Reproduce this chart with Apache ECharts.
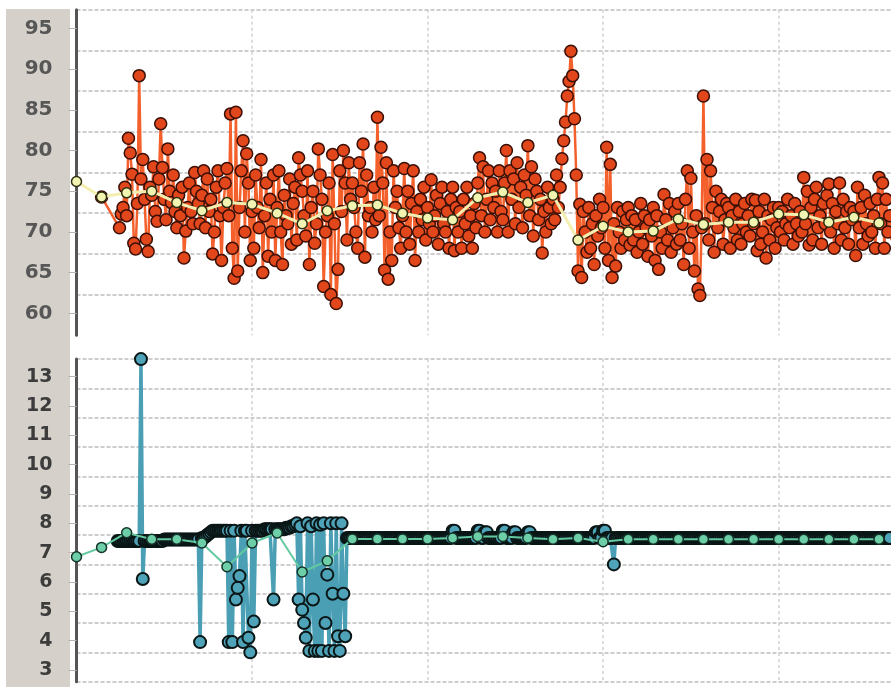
<!DOCTYPE html>
<html>
<head>
<meta charset="utf-8">
<script src="https://cdn.jsdelivr.net/npm/echarts@6/dist/echarts.min.js"></script>
<style>
  html, body { margin: 0; padding: 0; background: #fff; }
  #chart { width: 891px; height: 687px; }
</style>
</head>
<body>
<div id="chart"></div>
<script>
// tick labels
const topLabels = [60, 65, 70, 75, 80, 85, 90, 95];
const bottomLabels = [3, 4, 5, 6, 7, 8, 9, 10, 11, 12, 13];

// smoothed series, one point per period (x = 0..32)
const topAvg = [76.2, 74.3, 74.8, 75.0, 73.6, 72.6, 73.6, 73.4, 72.3, 71.0, 72.6,
  73.2, 73.3, 72.3, 71.7, 71.5, 74.2, 74.9, 73.6, 74.5, 69.0, 70.7,
  70.0, 70.1, 71.6, 70.9, 71.2, 71.2, 72.2, 72.1, 71.2, 71.8, 71.1];
const bottomAvg = [6.86, 7.18, 7.68, 7.46, 7.46, 7.33, 6.52, 7.33, 7.67, 6.34, 6.72,
  7.47, 7.47, 7.47, 7.47, 7.5, 7.55, 7.55, 7.5, 7.46, 7.5, 7.37,
  7.46, 7.46, 7.46, 7.46, 7.46, 7.46, 7.46, 7.46, 7.46, 7.46, 7.46];

// raw readings, 14 per period, starting at period 1
const topRaw = [
  74.3, null, null, null, null, null, null, null, null, null, 70.5, 72.2, 73.0, 75.5,
  72.0, 81.5, 79.7, 77.1, 68.6, 67.9, 73.5, 89.2, 76.5, 78.9, 74.0, 69.1, 67.6, 75.5,
  74.5, 78.0, 72.5, 71.3, 76.5, 83.3, 77.9, 74.0, 71.5, 80.2, 75.0, 73.6, 77.0, 72.5,
  70.5, 74.5, 72.0, 75.5, 66.8, 70.1, 73.0, 76.0, 72.5, 71.0, 77.3, 75.0, 73.5, 71.0,
  74.5, 77.5, 70.5, 76.5, 72.5, 74.0, 67.3, 70.0, 75.5, 77.5, 72.0, 66.5, 73.0, 76.0,
  77.8, 72.0, 84.5, 68.0, 64.3, 84.7, 65.2, 73.0, 77.5, 81.2, 70.0, 79.6, 76.0, 66.5,
  72.5, 68.0, 77.0, 73.0, 70.5, 78.9, 65.0, 72.0, 76.0, 67.0, 74.0, 70.0, 77.0, 66.5,
  73.0, 77.5, 70.0, 66.0, 74.5, 72.0, 71.0, 76.5, 68.5, 73.5, 75.5, 69.0, 79.1, 77.0,
  75.0, 72.0, 69.5, 77.5, 66.0, 73.0, 75.0, 68.6, 71.0, 80.2, 77.0, 74.0, 63.3, 70.0,
  72.0, 76.0, 62.3, 79.5, 71.0, 61.2, 65.4, 77.5, 72.5, 80.0, 76.0, 69.0, 78.5, 74.0,
  76.0, 73.0, 70.0, 68.0, 78.5, 75.0, 80.8, 66.9, 77.0, 72.0, 73.0, 70.0, 75.5, 71.5,
  84.1, 72.0, 80.4, 76.0, 65.3, 78.5, 64.2, 70.0, 66.5, 77.5, 73.0, 75.0, 70.5, 68.0,
  72.0, 77.8, 70.0, 75.0, 68.5, 73.5, 77.5, 66.5, 72.5, 70.0, 74.0, 71.5, 75.5, 69.0,
  73.0, 71.0, 76.4, 70.0, 72.0, 74.5, 68.5, 73.5, 75.5, 71.0, 70.0, 72.5, 68.0, 74.0,
  75.5, 67.7, 73.0, 70.0, 72.5, 68.0, 74.0, 71.0, 75.5, 69.5, 72.0, 68.0, 73.5, 70.5,
  76.0, 79.1, 72.0, 78.0, 70.0, 74.0, 77.5, 71.5, 76.0, 73.0, 75.0, 70.0, 77.5, 72.5,
  71.5, 76.0, 80.0, 70.0, 77.5, 74.0, 76.5, 71.0, 78.5, 73.0, 75.5, 70.5, 77.0, 74.5,
  80.6, 72.0, 78.0, 69.5, 76.5, 75.0, 71.5, 74.0, 67.4, 72.5, 70.0, 75.5, 73.0, 71.0,
  74.0, 71.5, 77.0, 73.0, 75.5, 79.0, 81.2, 83.5, 86.7, 88.5, 92.2, 89.2, 83.9, 77.0,
  65.2, 73.4, 64.4, 72.5, 70.0, 67.5, 73.0, 68.0, 71.0, 66.0, 72.0, 69.5, 74.0, 70.5,
  73.0, 68.0, 80.4, 66.5, 78.3, 64.4, 71.0, 65.8, 73.0, 70.0, 68.0, 72.5, 69.0, 71.5,
  73.0, 68.4, 72.0, 69.0, 71.5, 67.5, 70.0, 73.5, 68.5, 72.0, 70.5, 67.0, 71.5, 69.5,
  73.0, 66.5, 72.0, 65.4, 70.0, 68.0, 74.6, 71.5, 69.0, 73.5, 67.5, 70.5, 72.5, 68.5,
  73.5, 69.0, 71.0, 66.0, 74.0, 77.5, 68.0, 76.6, 70.0, 65.2, 72.0, 63.0, 62.2, 70.5,
  86.7, 71.0, 78.9, 69.0, 77.5, 73.0, 67.5, 75.0, 70.5, 72.5, 74.0, 68.5, 71.5, 73.5,
  73.0, 68.0, 72.0, 70.5, 74.0, 69.0, 72.5, 68.5, 71.0, 73.5, 70.0, 72.0, 69.5, 74.0,
  71.0, 73.9, 67.7, 72.5, 68.5, 70.0, 74.0, 66.8, 72.0, 69.0, 71.5, 73.0, 68.0, 70.5,
  73.0, 70.0, 72.5, 69.0, 71.0, 74.0, 70.5, 72.0, 68.5, 73.5, 71.0, 69.5, 72.5, 70.0,
  76.7, 71.0, 75.0, 68.4, 73.0, 69.0, 74.0, 75.5, 70.5, 72.0, 68.5, 73.5, 71.0, 74.5,
  75.9, 70.0, 73.5, 68.0, 72.5, 71.0, 76.0, 69.0, 74.0, 70.5, 72.5, 68.5, 73.0, 71.5,
  72.5, 67.1, 75.5, 70.5, 73.0, 68.5, 74.5, 71.0, 69.5, 73.5, 70.0, 72.0, 68.0, 74.0,
  76.7, 71.0, 76.0, 68.0, 74.0, 70.0, 72.0, 69.0, 73.0, 70.5, 72.0, 71.0, 70.0, 72.0
];
const bottomRaw = [
  null, null, null, null, null, null, null, null, null, 7.4, 7.4, 7.4, 7.4, 7.4,
  7.4, 7.4, 7.4, 7.4, 7.4, 7.4, 7.4, 7.4, 13.6, 6.1, 7.4, 7.4, 7.4, 7.4,
  7.4, 7.4, 7.4, 7.4, 7.4, 7.4, 7.4, 7.45, 7.45, 7.45, 7.45, 7.45, 7.45, 7.45,
  7.45, 7.45, 7.45, 7.45, 7.45, 7.45, 7.45, 7.45, 7.45, 7.45, 7.45, 7.45, 7.45, 3.95,
  7.5, 7.5, 7.55, 7.6, 7.65, 7.7, 7.75, 7.75, 7.75, 7.75, 7.75, 7.75, 7.75, 7.75,
  7.75, 3.95, 7.75, 3.95, 7.75, 5.4, 5.8, 6.2, 7.75, 3.95, 7.75, 7.75, 4.1, 3.6,
  7.75, 4.65, 7.75, 7.75, 7.75, 7.75, 7.75, 7.8, 7.8, 7.8, 7.8, 7.8, 5.4, 7.8,
  7.8, 7.8, 7.8, 7.8, 7.8, 7.85, 7.85, 7.85, 7.9, 7.9, 7.95, 8.0, 5.4, 7.9,
  5.05, 4.6, 4.1, 8.0, 3.65, 7.9, 5.4, 3.65, 8.0, 3.65, 7.95, 3.65, 8.0, 4.6,
  6.25, 3.65, 8.0, 5.6, 3.65, 8.0, 4.15, 3.65, 8.0, 5.6, 4.15, 7.5, 7.5, 7.5,
  7.5, 7.5, 7.5, 7.5, 7.5, 7.5, 7.5, 7.5, 7.5, 7.5, 7.5, 7.5, 7.5, 7.5,
  7.5, 7.5, 7.5, 7.5, 7.5, 7.5, 7.5, 7.5, 7.5, 7.5, 7.5, 7.5, 7.5, 7.5,
  7.5, 7.5, 7.5, 7.5, 7.5, 7.5, 7.5, 7.5, 7.5, 7.5, 7.5, 7.5, 7.5, 7.5,
  7.5, 7.5, 7.5, 7.5, 7.5, 7.5, 7.5, 7.5, 7.5, 7.5, 7.5, 7.5, 7.5, 7.5,
  7.75, 7.75, 7.5, 7.5, 7.5, 7.5, 7.5, 7.5, 7.5, 7.5, 7.5, 7.5, 7.5, 7.5,
  7.75, 7.75, 7.5, 7.5, 7.7, 7.7, 7.5, 7.5, 7.5, 7.5, 7.5, 7.5, 7.5, 7.5,
  7.75, 7.75, 7.5, 7.5, 7.5, 7.5, 7.7, 7.7, 7.5, 7.5, 7.5, 7.5, 7.5, 7.5,
  7.7, 7.7, 7.5, 7.5, 7.5, 7.5, 7.5, 7.5, 7.5, 7.5, 7.5, 7.5, 7.5, 7.5,
  7.5, 7.5, 7.5, 7.5, 7.5, 7.5, 7.5, 7.5, 7.5, 7.5, 7.5, 7.5, 7.5, 7.5,
  7.5, 7.5, 7.5, 7.5, 7.5, 7.5, 7.5, 7.5, 7.5, 7.5, 7.7, 7.7, 7.5, 7.5,
  7.75, 7.75, 7.5, 7.5, 7.5, 7.5, 6.6, 7.5, 7.5, 7.5, 7.5, 7.5, 7.5, 7.5,
  7.5, 7.5, 7.5, 7.5, 7.5, 7.5, 7.5, 7.5, 7.5, 7.5, 7.5, 7.5, 7.5, 7.5,
  7.5, 7.5, 7.5, 7.5, 7.5, 7.5, 7.5, 7.5, 7.5, 7.5, 7.5, 7.5, 7.5, 7.5,
  7.5, 7.5, 7.5, 7.5, 7.5, 7.5, 7.5, 7.5, 7.5, 7.5, 7.5, 7.5, 7.5, 7.5,
  7.5, 7.5, 7.5, 7.5, 7.5, 7.5, 7.5, 7.5, 7.5, 7.5, 7.5, 7.5, 7.5, 7.5,
  7.5, 7.5, 7.5, 7.5, 7.5, 7.5, 7.5, 7.5, 7.5, 7.5, 7.5, 7.5, 7.5, 7.5,
  7.5, 7.5, 7.5, 7.5, 7.5, 7.5, 7.5, 7.5, 7.5, 7.5, 7.5, 7.5, 7.5, 7.5,
  7.5, 7.5, 7.5, 7.5, 7.5, 7.5, 7.5, 7.5, 7.5, 7.5, 7.5, 7.5, 7.5, 7.5,
  7.5, 7.5, 7.5, 7.5, 7.5, 7.5, 7.5, 7.5, 7.5, 7.5, 7.5, 7.5, 7.5, 7.5,
  7.5, 7.5, 7.5, 7.5, 7.5, 7.5, 7.5, 7.5, 7.5, 7.5, 7.5, 7.5, 7.5, 7.5,
  7.5, 7.5, 7.5, 7.5, 7.5, 7.5, 7.5, 7.5, 7.5, 7.5, 7.5, 7.5, 7.5, 7.5,
  7.5, 7.5, 7.5, 7.5, 7.5, 7.5, 7.5, 7.5, 7.5, 7.5, 7.5, 7.5, 7.5, 7.5
];

const PER_PERIOD = 14;
const rawPairs = arr => arr.map((v, i) => [1 + i / PER_PERIOD, v]);
const avgPairs = arr => arr.map((v, i) => [i, v]);

const chart = echarts.init(document.getElementById('chart'), null, { renderer: 'canvas' });

const gridLine = {
  show: true,
  lineStyle: { color: '#bdbdbd', type: [4, 2], width: 1.5 }
};

function xAxisFor(gridIndex) {
  return {
    type: 'value',
    gridIndex: gridIndex,
    min: 0,
    max: 32.48,
    interval: 7,
    axisLine: { show: false },
    axisTick: { show: false },
    axisLabel: { show: false },
    splitLine: {
      show: true,
      showMinLine: false,
      showMaxLine: false,
      lineStyle: { color: '#d0d0d0', type: [3, 3], width: 1.5 }
    }
  };
}

function labelAxis(gridIndex, min, max, labels, font, color) {
  return {
    type: 'value',
    gridIndex: gridIndex,
    position: 'left',
    offset: 6,
    min: min,
    max: max,
    axisLine: { show: true, lineStyle: { color: '#555', width: 3 } },
    axisTick: { show: true, customValues: labels, length: 8, lineStyle: { color: '#b9b5ae', width: 1 } },
    axisLabel: {
      customValues: labels,
      margin: 18,
      color: color,
      fontFamily: 'DejaVu Sans',
      fontWeight: 'bold',
      fontSize: font
    },
    splitLine: { show: false }
  };
}

function lineAxis(gridIndex, min, max, interval, showMin) {
  return {
    type: 'value',
    gridIndex: gridIndex,
    position: 'left',
    min: min,
    max: max,
    interval: interval,
    axisLine: { show: false },
    axisTick: { show: false },
    axisLabel: { show: false },
    splitLine: Object.assign({}, gridLine, { showMinLine: showMin, showMaxLine: true })
  };
}

chart.setOption({
  animation: false,
  backgroundColor: '#fff',
  graphic: [
    {
      type: 'rect',
      z: -10,
      silent: true,
      shape: { x: 6, y: 9, width: 64, height: 678 },
      style: { fill: '#d5d1ca' }
    }
  ],
  grid: [
    { left: 76.5, right: 0, top: 9.7, height: 325.6 },
    { left: 76.5, right: 0, top: 359.1, height: 322.6 }
  ],
  xAxis: [xAxisFor(0), xAxisFor(1)],
  yAxis: [
    labelAxis(0, 57.3, 97.3, topLabels, 20, '#575757'),
    lineAxis(0, 57.3, 97.3, 5, false),
    labelAxis(1, 2.6, 13.6, bottomLabels, 19, '#3c3c3c'),
    lineAxis(1, 2.6, 13.6, 1, true)
  ],
  series: [
    {
      type: 'line',
      xAxisIndex: 0,
      yAxisIndex: 0,
      data: rawPairs(topRaw),
      connectNulls: true,
      symbol: 'circle',
      symbolSize: 12,
      z: 2,
      itemStyle: { color: '#e2461b', borderColor: '#3a0f05', borderWidth: 1.5 },
      lineStyle: { color: '#f4602c', width: 2.5 }
    },
    {
      type: 'line',
      xAxisIndex: 0,
      yAxisIndex: 0,
      data: avgPairs(topAvg),
      symbol: 'circle',
      symbolSize: 10,
      z: 3,
      itemStyle: { color: '#f2f5b2', borderColor: '#2f2f12', borderWidth: 1.5 },
      lineStyle: { color: '#f4efb0', width: 3 }
    },
    {
      type: 'line',
      xAxisIndex: 1,
      yAxisIndex: 2,
      data: rawPairs(bottomRaw),
      symbol: 'circle',
      symbolSize: 12,
      z: 2,
      itemStyle: { color: '#4fa3b8', borderColor: '#0a1616', borderWidth: 2 },
      lineStyle: { color: '#4a9fb5', width: 3.5 }
    },
    {
      type: 'line',
      xAxisIndex: 1,
      yAxisIndex: 2,
      data: avgPairs(bottomAvg),
      symbol: 'circle',
      symbolSize: 10,
      z: 3,
      itemStyle: { color: '#6dcfa7', borderColor: '#16342a', borderWidth: 1.5 },
      lineStyle: { color: '#62c9a0', width: 2 }
    }
  ]
});
</script>
</body>
</html>
